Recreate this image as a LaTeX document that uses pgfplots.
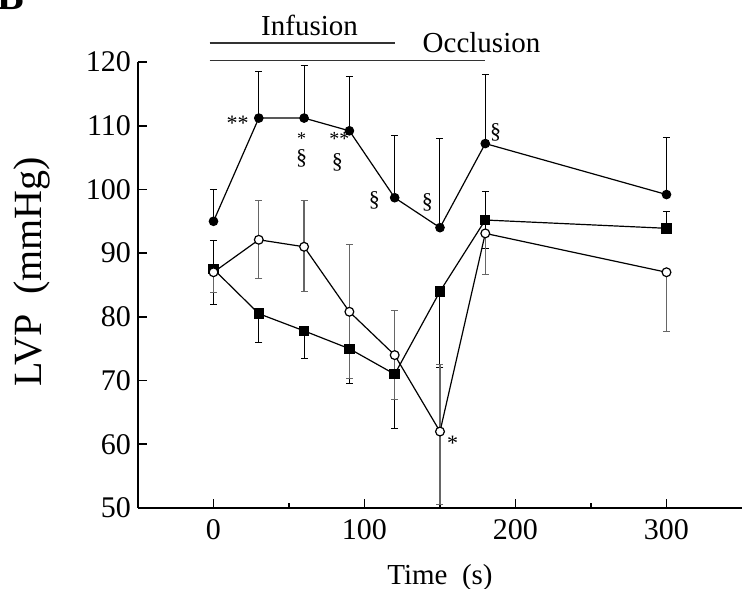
\documentclass[border=0pt]{standalone}
\usepackage{fontspec}
\setmainfont{Liberation Serif}
\usepackage{pgfplots}
\pgfplotsset{compat=1.18}
\usepackage{pgfplotstable}

% LVP time course: mean value, upper and lower error
\pgfplotstableread{
t   y     ep    em
0   95.0  5.0   0
30  111.2 7.3   0
60  111.2 8.2   0
90  109.2 8.6   0
120 98.7  9.7   0
150 94.0  14.0  0
180 107.2 10.8  0
300 99.2  9.0   0
}\filledtab

\pgfplotstableread{
t   y     ep    em
0   87.5  4.5   5.5
30  80.5  0     4.5
60  77.8  0     4.3
90  75.0  0     5.5
120 71.0  0     8.6
150 84.0  0     12.0
180 95.2  4.5   4.5
300 93.9  2.6   0
}\squaretab

\pgfplotstableread{
t   y     ep    em
0   87.0  0     3.2
30  92.1  6.1   6.1
60  91.0  7.2   7.0
90  80.8  10.6  10.4
120 74.0  7.0   7.0
150 62.0  10.5  11.5
180 93.1  0     6.5
300 87.0  0     9.3
}\opentab

\begin{document}
\begin{tikzpicture}
\useasboundingbox (-69pt,-40.5pt) rectangle (304pt,254pt);
\begin{axis}[
  at={(0,0)}, anchor=south west,
  scale only axis, width=302pt, height=223pt,
  xmin=-50, xmax=350, ymin=50, ymax=120,
  axis x line=bottom, axis y line=left,
  axis line style={-, line width=0.8pt},
  tick align=inside,
  major tick length=4.5pt, minor tick length=2.5pt,
  every tick/.style={black, line width=0.8pt},
  xtick={0,100,200,300}, minor xtick={50,150,250},
  ytick={50,60,...,120},
  /pgf/number format/assume math mode=true,
  tick label style={font=\fontsize{15}{18}\selectfont},
  xticklabel style={yshift=-2pt},
  xlabel={Time\ \ (s)},
  ylabel={LVP\ \ (mmHg)},
  xlabel style={font=\fontsize{14.5}{17}\selectfont, at={(axis description cs:0.5,-0.155)}, anchor=center},
  ylabel style={font=\fontsize{20}{24}\selectfont, at={(axis description cs:-0.1755,0.53)}, anchor=center},
  clip=false,
  error bars/y dir=both, error bars/y explicit,
  error bars/error mark options={rotate=90, mark size=1.75pt, line width=0.5pt},
]
% phase bars above the plot
\draw[black!80, line width=0.7pt] (axis cs:-2.6,123.0) -- (axis cs:120,123.0);
\draw[black!80, line width=0.7pt] (axis cs:-2.6,120.2) -- (axis cs:179.5,120.2);
\node[font=\fontsize{14.5}{17}\selectfont] at (axis cs:63.6,125.8) {Infusion};
\node[font=\fontsize{14.5}{17}\selectfont] at (axis cs:177.5,123.1) {Occlusion};

\addplot[black, line width=0.6pt, mark=*, mark size=2.1pt,
  error bars/error bar style={black, line width=0.5pt}]
  table[x=t, y=y, y error plus=ep, y error minus=em] {\filledtab};
\addplot[black, line width=0.6pt, mark=square*, mark size=2.3pt,
  error bars/error bar style={black, line width=0.5pt}]
  table[x=t, y=y, y error plus=ep, y error minus=em] {\squaretab};
\addplot[black, line width=0.6pt, mark=*, mark size=2.2pt, mark options={fill=white, line width=0.6pt},
  error bars/error bar style={black!60, line width=0.7pt}]
  table[x=t, y=y, y error plus=ep, y error minus=em] {\opentab};

% significance marks
\begin{scope}[every node/.style={font=\fontsize{11}{13}\selectfont, inner sep=0pt}]
\node at (axis cs:15.9,110.4) {**};
\node[font=\fontsize{9}{11}\selectfont] at (axis cs:58.3,108.0) {*};
\node at (axis cs:58.3,104.9) {\S};
\node[font=\fontsize{10}{12}\selectfont] at (axis cs:83.4,107.9) {**};
\node at (axis cs:82.1,104.3) {\S};
\node at (axis cs:106.6,98.3) {\S};
\node at (axis cs:141.7,98.0) {\S};
\node at (axis cs:186.8,108.9) {\S};
\node at (axis cs:158.3,60.2) {*};
\end{scope}
\end{axis}
\node[anchor=south east, inner sep=0pt, font=\bfseries\fontsize{20}{24}\selectfont] at (-56.5pt,249pt) {B};
\end{tikzpicture}
\end{document}
